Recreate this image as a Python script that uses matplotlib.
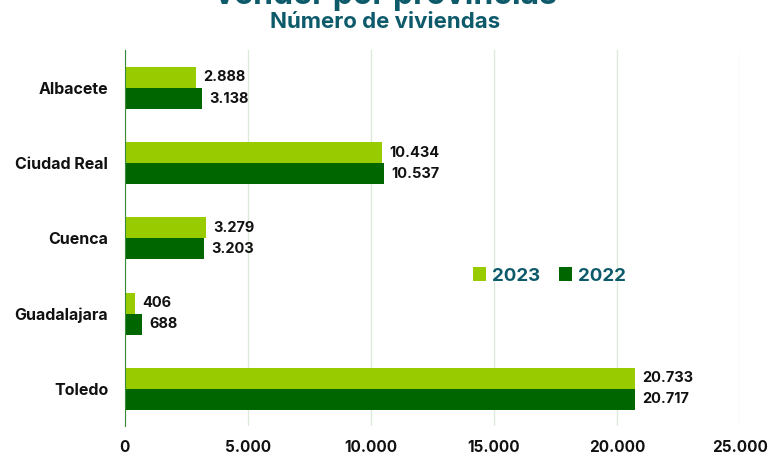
import matplotlib
matplotlib.use('Agg')
import matplotlib.pyplot as plt
import numpy as np

plt.rcParams['font.family'] = ['Inter', 'DejaVu Sans']

provincias = ['Albacete', 'Ciudad Real', 'Cuenca', 'Guadalajara', 'Toledo']
v2023 = [2888, 10434, 3279, 406, 20733]
v2022 = [3138, 10537, 3203, 688, 20717]
xticks = [0, 5000, 10000, 15000, 20000, 25000]

c23 = '#99CC00'
c22 = '#006600'
teal = '#0D5A6B'

def fmt(v):
    return f'{v:,}'.replace(',', '.')

fig = plt.figure(figsize=(7.71, 4.58), dpi=100)
ax = fig.add_axes([0.162, 0.069, 0.798, 0.821])

y = np.arange(len(provincias))
h = 0.28
b23 = ax.barh(y - h/2, v2023, height=h, color=c23, label='2023', zorder=3)
b22 = ax.barh(y + h/2, v2022, height=h, color=c22, label='2022', zorder=3)

for bars, vals in ((b23, v2023), (b22, v2022)):
    for bar, v in zip(bars, vals):
        ax.text(v + 300, bar.get_y() + bar.get_height()/2, fmt(v),
                va='center', ha='left', fontsize=10.5, fontweight='bold', color='#111111')

ax.set_ylim(len(provincias) - 0.5, -0.5)
ax.set_xlim(0, 25000)
ax.set_yticks(y)
ax.set_yticklabels(provincias, fontsize=11.5, fontweight='bold', color='#111111')
ax.set_xticks(xticks)
ax.set_xticklabels([fmt(t) for t in xticks], fontsize=11, fontweight='bold', color='#111111')
ax.tick_params(length=0, pad=12)
ax.tick_params(axis='x', pad=10)

ax.grid(axis='x', color='#DCEBD8', lw=1, zorder=0)
for s in ['top', 'right', 'bottom']:
    ax.spines[s].set_visible(False)
ax.spines['left'].set_color('#3A8A3A')
ax.spines['left'].set_zorder(4)

leg = ax.legend(loc='center', bbox_to_anchor=(0.69, 0.40), ncol=2, frameon=False,
                handlelength=0.7, handleheight=0.7, handletextpad=0.3, columnspacing=1.0,
                prop={'size': 13.5, 'weight': 'bold'})
for t in leg.get_texts():
    t.set_color(teal)

fig.text(0.5, 1.012, 'vender por provincias', ha='center', va='center',
         fontsize=23, fontweight='bold', color=teal)
fig.text(0.5, 0.953, 'Número de viviendas', ha='center', va='center',
         fontsize=16, fontweight='bold', color=teal)

fig.savefig('out.png', dpi=100)
